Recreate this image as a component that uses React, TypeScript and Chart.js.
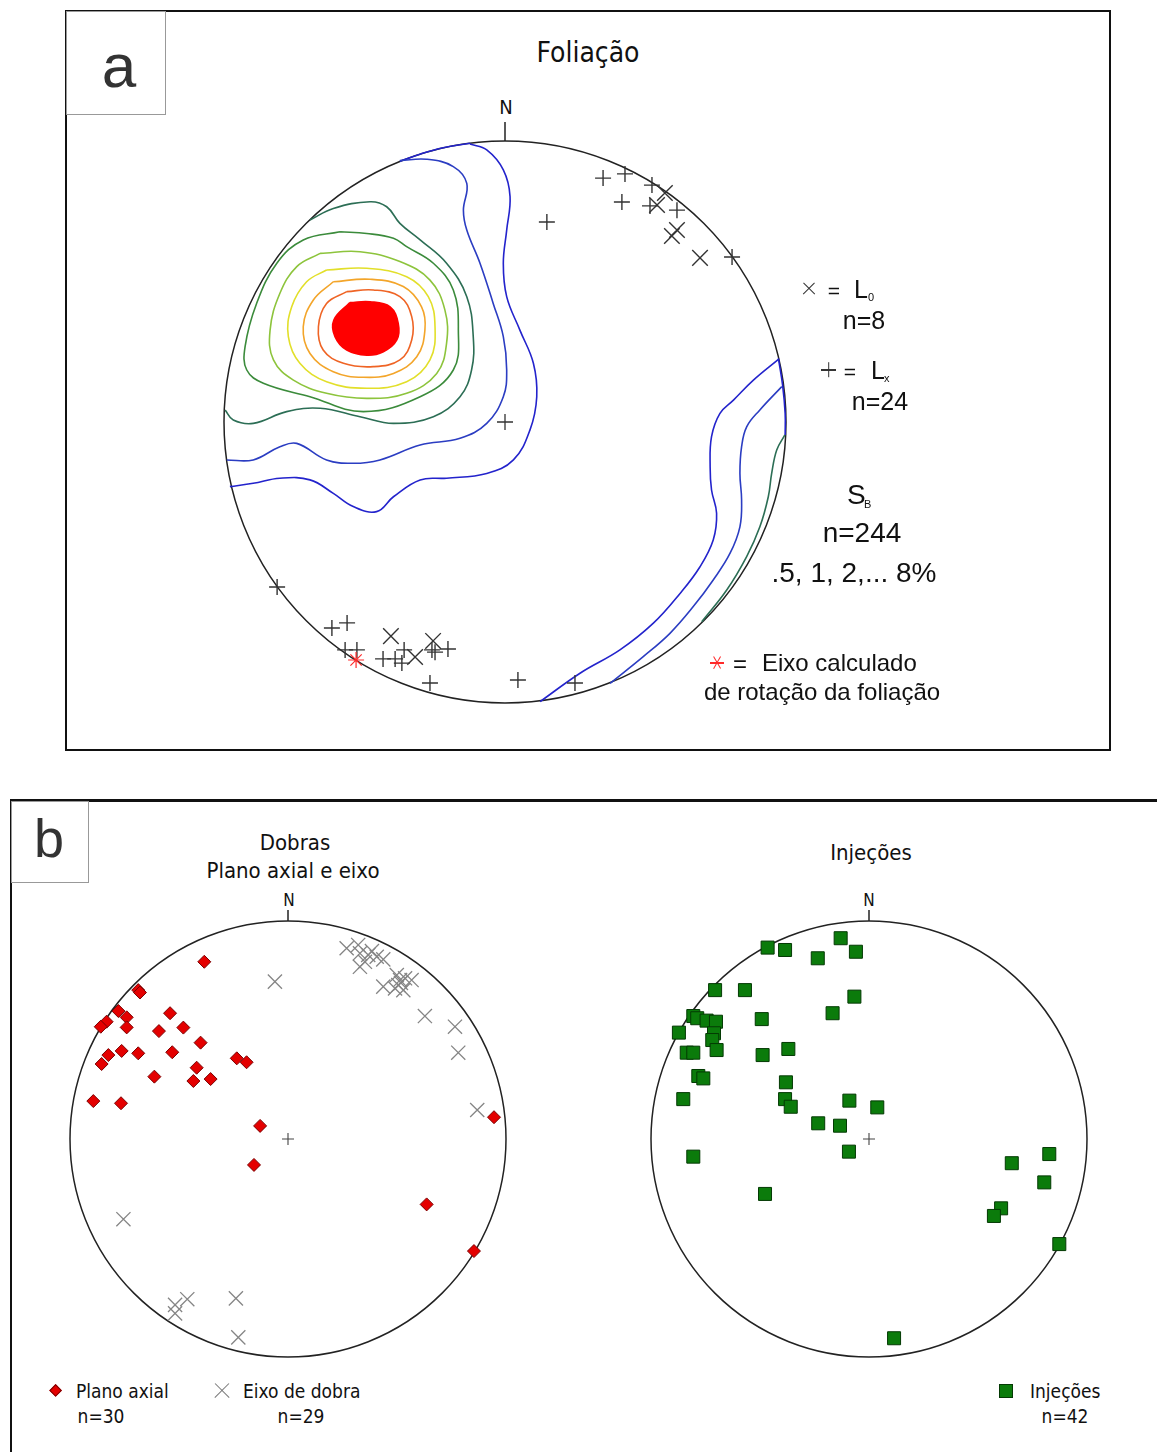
import React, { useEffect, useRef } from 'react';
import { Chart, registerables } from 'chart.js';

Chart.register(...registerables);

type P = [number, number];

// Net coordinates: x = east, y = north, primitive circle radius = 1

// ===================== Panel a – Foliação =====================
const aLx: P[] = [
  [0.349, 0.868], [0.427, 0.883], [0.523, 0.843], [0.416, 0.783], [0.516, 0.769],
  [0.612, 0.754], [0.149, 0.712], [0.808, 0.587], [-0.811, -0.587], [-0.616, -0.733],
  [-0.562, -0.715], [-0.569, -0.811], [-0.527, -0.811], [-0.434, -0.843], [-0.391, -0.843],
  [-0.367, -0.858], [-0.359, -0.811], [-0.26, -0.811], [-0.249, -0.819], [-0.203, -0.808],
  [-0.267, -0.929], [0.046, -0.918], [0.249, -0.929],
];
const aL0: P[] = [
  [0.569, 0.815], [0.541, 0.772], [0.612, 0.683], [0.594, 0.662], [0.694, 0.584],
  [-0.406, -0.762], [-0.32, -0.836], [-0.256, -0.779],
];
const aRotationAxis: P[] = [[-0.53, -0.847]];
const netCentre: P[] = [[0, 0]];

// S_B pole density contours (.5, 1, 2, ... 8 %)
const aC05nw: P[] = [
  [-0.125, 0.989], [-0.065, 0.968], [-0.006, 0.897], [0.018, 0.802], [0.006, 0.683],
  [-0.006, 0.565], [0.006, 0.446], [0.053, 0.327], [0.101, 0.209], [0.113, 0.09],
  [0.089, -0.028], [0.03, -0.135], [-0.065, -0.183], [-0.208, -0.2], [-0.302, -0.206],
  [-0.397, -0.266], [-0.457, -0.319], [-0.54, -0.301], [-0.611, -0.254], [-0.694, -0.206],
  [-0.801, -0.2], [-0.896, -0.218], [-0.979, -0.23],
];
const aC05nwRim: P[] = [[-0.374, 0.928], [-0.3, 0.954], [-0.22, 0.976], [-0.125, 0.992]];
const aC05se: P[] = [
  [0.973, 0.223], [0.884, 0.149], [0.813, 0.078], [0.765, 0.031], [0.735, -0.052],
  [0.73, -0.159], [0.735, -0.242], [0.753, -0.325], [0.741, -0.42], [0.694, -0.515],
  [0.623, -0.61], [0.528, -0.716], [0.409, -0.811], [0.267, -0.894], [0.125, -0.995],
];
const aC05seRim: P[] = [[0.973, 0.226], [0.988, 0.13], [0.997, 0.03], [0.997, -0.046]];
const aC1nw: P[] = [
  [-0.374, 0.93], [-0.279, 0.935], [-0.184, 0.909], [-0.136, 0.849], [-0.148, 0.754],
  [-0.136, 0.683], [-0.089, 0.565], [-0.042, 0.422], [-0.006, 0.304], [0.006, 0.185],
  [-0.006, 0.09], [-0.065, -0.005], [-0.16, -0.058], [-0.302, -0.082], [-0.445, -0.135],
  [-0.54, -0.147], [-0.635, -0.135], [-0.741, -0.076], [-0.801, -0.088], [-0.896, -0.135],
  [-0.99, -0.135],
];
const aC1se: P[] = [
  [0.985, 0.126], [0.907, 0.043], [0.86, -0.017], [0.842, -0.088], [0.836, -0.183],
  [0.842, -0.278], [0.836, -0.373], [0.801, -0.467], [0.741, -0.562], [0.67, -0.657],
  [0.587, -0.752], [0.492, -0.835], [0.374, -0.93],
];
const aC2nw: P[] = [
  [-0.694, 0.719], [-0.611, 0.76], [-0.48, 0.784], [-0.421, 0.766], [-0.374, 0.707],
  [-0.302, 0.648], [-0.208, 0.565], [-0.136, 0.446], [-0.113, 0.304], [-0.119, 0.185],
  [-0.16, 0.09], [-0.255, 0.019], [-0.397, -0.005], [-0.516, 0.019], [-0.658, 0.049],
  [-0.777, 0.037], [-0.896, -0.005], [-0.967, 0.007], [-0.996, 0.043],
];
const aC2se: P[] = [
  [0.996, -0.046], [0.967, -0.1], [0.949, -0.183], [0.937, -0.266], [0.907, -0.373],
  [0.86, -0.479], [0.789, -0.598], [0.7, -0.711],
];
const aC3: P[] = [
  [-0.587, 0.677], [-0.492, 0.671], [-0.397, 0.654], [-0.35, 0.624], [-0.255, 0.565],
  [-0.184, 0.47], [-0.166, 0.327], [-0.184, 0.185], [-0.302, 0.09], [-0.504, 0.037],
  [-0.694, 0.09], [-0.86, 0.138], [-0.919, 0.185], [-0.925, 0.268], [-0.884, 0.422],
  [-0.812, 0.565], [-0.718, 0.648],
];
const aC4: P[] = [
  [-0.658, 0.6], [-0.516, 0.606], [-0.374, 0.571], [-0.267, 0.505], [-0.214, 0.399],
  [-0.208, 0.28], [-0.243, 0.173], [-0.35, 0.102], [-0.492, 0.084], [-0.635, 0.102],
  [-0.753, 0.149], [-0.824, 0.221], [-0.836, 0.327], [-0.801, 0.458], [-0.741, 0.553],
];
const aC5: P[] = [
  [-0.635, 0.541], [-0.492, 0.547], [-0.35, 0.517], [-0.273, 0.446], [-0.249, 0.339],
  [-0.267, 0.221], [-0.35, 0.143], [-0.492, 0.12], [-0.635, 0.143], [-0.73, 0.209],
  [-0.771, 0.304], [-0.759, 0.41], [-0.706, 0.499],
];
const aC6: P[] = [
  [-0.611, 0.499], [-0.48, 0.508], [-0.362, 0.482], [-0.297, 0.41], [-0.285, 0.327],
  [-0.314, 0.232], [-0.397, 0.173], [-0.504, 0.159], [-0.611, 0.179], [-0.694, 0.244],
  [-0.718, 0.339], [-0.682, 0.434],
];
const aC7: P[] = [
  [-0.563, 0.464], [-0.469, 0.47], [-0.374, 0.446], [-0.332, 0.375], [-0.332, 0.292],
  [-0.374, 0.221], [-0.469, 0.197], [-0.575, 0.209], [-0.647, 0.256], [-0.664, 0.339],
  [-0.635, 0.422],
];
const aC8: P[] = [
  [-0.552, 0.425], [-0.48, 0.428], [-0.409, 0.41], [-0.38, 0.351], [-0.385, 0.292],
  [-0.433, 0.25], [-0.492, 0.238], [-0.563, 0.256], [-0.605, 0.304], [-0.609, 0.363],
];

// ===================== Panel b =====================
const bAxialPlane: P[] = [
  [-0.384, 0.813], [-0.687, 0.683], [-0.679, 0.672], [-0.778, 0.587], [-0.74, 0.558],
  [-0.832, 0.538], [-0.859, 0.515], [-0.74, 0.512], [-0.541, 0.577], [-0.592, 0.495],
  [-0.48, 0.511], [-0.401, 0.442], [-0.824, 0.385], [-0.855, 0.344], [-0.763, 0.404],
  [-0.687, 0.393], [-0.531, 0.398], [-0.235, 0.37], [-0.19, 0.352], [-0.419, 0.327],
  [-0.434, 0.266], [-0.355, 0.275], [-0.613, 0.286], [-0.893, 0.174], [-0.766, 0.164],
  [-0.128, 0.06], [0.945, 0.1], [0.636, -0.3], [0.853, -0.514], [-0.156, -0.119],
];
const bFoldAxis: P[] = [
  [0.269, 0.875], [0.322, 0.89], [0.33, 0.852], [0.353, 0.813], [0.33, 0.79],
  [0.368, 0.844], [0.407, 0.836], [0.437, 0.824], [0.437, 0.699], [0.499, 0.752],
  [0.514, 0.729], [0.506, 0.706], [0.537, 0.737], [0.529, 0.683], [0.567, 0.729],
  [0.491, 0.691], [0.628, 0.564], [0.766, 0.515], [0.781, 0.396], [0.868, 0.133],
  [-0.06, 0.722], [-0.755, -0.368], [-0.518, -0.761], [-0.518, -0.8], [-0.462, -0.735],
  [-0.239, -0.731], [-0.228, -0.91], [0.385, 0.862], [0.518, 0.716],
];
const bInjections: P[] = [
  [-0.465, 0.878], [-0.385, 0.867], [-0.13, 0.921], [-0.06, 0.859], [-0.235, 0.829],
  [-0.706, 0.683], [-0.569, 0.683], [-0.067, 0.653], [-0.167, 0.577], [-0.806, 0.564],
  [-0.788, 0.554], [-0.745, 0.543], [-0.702, 0.538], [-0.872, 0.488], [-0.711, 0.485],
  [-0.719, 0.454], [-0.492, 0.55], [-0.836, 0.396], [-0.806, 0.396], [-0.699, 0.408],
  [-0.488, 0.385], [-0.37, 0.413], [-0.783, 0.289], [-0.76, 0.278], [-0.381, 0.26],
  [-0.852, 0.183], [-0.385, 0.183], [-0.359, 0.148], [-0.09, 0.176], [0.038, 0.145],
  [-0.233, 0.072], [-0.133, 0.061], [-0.092, -0.058], [-0.806, -0.081], [-0.477, -0.252],
  [0.655, -0.111], [0.827, -0.069], [0.804, -0.199], [0.606, -0.318], [0.573, -0.353],
  [0.873, -0.482], [0.115, -0.914],
];

// ===================== styles =====================
const contourColour: Record<string, string> = {
  '0.5': '#2323cc', '1': '#2b3dc2', '2': '#2c6e55', '3': '#3b8b3b', '4': '#8dc43c',
  '5': '#e2df2a', '6': '#f3a52a', '7': '#ef6425', '8': '#ff0000',
};
const SANS = "'Liberation Sans', Arial, sans-serif";
const COND = "'DejaVu Sans Condensed', 'DejaVu Sans', sans-serif";

const toXY = (a: P[]) => a.map(([x, y]) => ({ x, y }));

function marker(data: P[], style: string, radius: number, stroke: string, fillC: string, lw: number) {
  return {
    data: toXY(data), showLine: false, pointStyle: style, pointRadius: radius, pointHoverRadius: radius,
    pointBorderColor: stroke, pointBackgroundColor: fillC, pointBorderWidth: lw,
  };
}
function contour(data: P[], level: string, closed: boolean, filled = false) {
  const d = closed ? [...data, data[0]] : data;
  return {
    data: toXY(d), showLine: true, pointRadius: 0, pointHoverRadius: 0,
    borderColor: contourColour[level], borderWidth: 1.6, tension: 0.4,
    fill: filled ? 'shape' : false, backgroundColor: contourColour[level],
  };
}

const panelA = () => [
  marker(netCentre, 'cross', 8, '#333', '#333', 1.3),
  marker(aRotationAxis, 'star', 8, '#ff2a2a', '#ff2a2a', 1.2),
  marker(aL0, 'crossRot', 11, '#333', '#333', 1.4),
  marker(aLx, 'cross', 8, '#333', '#333', 1.4),
  contour(aC8, '8', true, true),
  contour(aC7, '7', true),
  contour(aC6, '6', true),
  contour(aC5, '5', true),
  contour(aC4, '4', true),
  contour(aC3, '3', true),
  contour(aC2nw, '2', false),
  contour(aC2se, '2', false),
  contour(aC1nw, '1', false),
  contour(aC1se, '1', false),
  contour(aC05nw, '0.5', false),
  contour(aC05nwRim, '0.5', false),
  contour(aC05se, '0.5', false),
  contour(aC05seRim, '0.5', false),
];
const panelBLeft = () => [
  marker(bAxialPlane, 'rectRot', 6.5, '#7a0000', '#e40000', 1),
  marker(bFoldAxis, 'crossRot', 10, '#858585', '#858585', 1.3),
  marker(netCentre, 'cross', 6, '#444', '#444', 1.1),
];
const panelBRight = () => [
  marker(bInjections, 'rect', 9.2, '#043a04', '#0b7b0b', 1),
  marker(netCentre, 'cross', 6, '#444', '#444', 1.1),
];

const primitivePlugin = (tick: number) => ({
  id: 'primitive',
  beforeDatasetsDraw(chart: any) {
    const { ctx, scales } = chart;
    const px = scales.x.getPixelForValue(0);
    const py = scales.y.getPixelForValue(0);
    const r = scales.x.getPixelForValue(1) - px;
    ctx.save();
    ctx.strokeStyle = '#222';
    ctx.lineWidth = 1.5;
    ctx.beginPath();
    ctx.arc(px, py, r, 0, Math.PI * 2);
    ctx.stroke();
    ctx.beginPath();
    ctx.moveTo(px, py - r);
    ctx.lineTo(px, py - r - tick);
    ctx.stroke();
    ctx.restore();
  },
});

function Net({ cx, cy, R, half, tick, make }: { cx: number; cy: number; R: number; half: number; tick: number; make: () => any[] }) {
  const ref = useRef<HTMLCanvasElement | null>(null);
  useEffect(() => {
    if (!ref.current) return;
    const span = half / R;
    const chart = new Chart(ref.current, {
      type: 'scatter',
      data: { datasets: make() as any },
      options: {
        animation: false,
        responsive: false,
        devicePixelRatio: 1,
        events: [],
        layout: { padding: 0, autoPadding: false },
        plugins: { legend: { display: false }, tooltip: { enabled: false }, title: { display: false } },
        scales: {
          x: { type: 'linear', min: -span, max: span, display: false },
          y: { type: 'linear', min: -span, max: span, display: false },
        },
      } as any,
      plugins: [primitivePlugin(tick)],
    });
    return () => chart.destroy();
  }, []);
  return (
    <canvas ref={ref} width={half * 2} height={half * 2}
      style={{ position: 'absolute', left: cx - half, top: cy - half, width: half * 2, height: half * 2 }} />
  );
}

function T({ x, y, size, family = SANS, anchor = 'middle', color = '#111', children }: any) {
  const tx = anchor === 'middle' ? '-50%' : anchor === 'end' ? '-100%' : '0';
  return (
    <div style={{
      position: 'absolute', left: x, top: y, transform: `translate(${tx}, -50%)`, fontSize: size,
      fontFamily: family, lineHeight: 1, whiteSpace: 'nowrap', color,
    }}>{children}</div>
  );
}

function Mark({ x, y, len, rots, color, w = 1.4 }: { x: number; y: number; len: number; rots: number[]; color: string; w?: number }) {
  return (
    <>
      {rots.map((r, i) => (
        <div key={i} style={{
          position: 'absolute', left: x - len / 2, top: y - w / 2, width: len, height: w,
          background: color, transform: `rotate(${r}deg)`,
        }} />
      ))}
    </>
  );
}

export default function App() {
  return (
    <div style={{ position: 'absolute', left: 0, top: 0, width: 1157, height: 1452, overflow: 'hidden', background: '#fff' }}>
      {/* Panel a frame */}
      <div style={{ position: 'absolute', left: 65, top: 10, width: 1046, height: 741, border: '2px solid #111', boxSizing: 'border-box' }} />
      <div style={{ position: 'absolute', left: 66, top: 11, width: 100, height: 104, border: '1px solid #999', boxSizing: 'border-box' }} />
      <T x={119} y={66} size={62} color="#333">a</T>
      <T x={588} y={53} size={28} family={COND}>Foliação</T>
      <T x={506} y={107} size={20} family={COND}>N</T>

      <Net cx={505} cy={422} R={281} half={310} tick={19} make={panelA} />

      {/* Panel a legend */}
      <Mark x={809} y={289} len={16} rots={[45, -45]} color="#333" />
      <T x={834} y={290} size={21}>=</T>
      <T x={854} y={289} size={25} anchor="start">L</T>
      <T x={868} y={297} size={11} anchor="start">0</T>
      <T x={864} y={320} size={25}>n=8</T>

      <Mark x={828} y={370} len={15} rots={[0, 90]} color="#333" />
      <T x={850} y={371} size={21}>=</T>
      <T x={871} y={370} size={25} anchor="start">L</T>
      <T x={884} y={378} size={11} anchor="start">x</T>
      <T x={880} y={401} size={25}>n=24</T>

      <T x={847} y={495} size={28} anchor="start">S</T>
      <T x={864} y={504} size={11} anchor="start">B</T>
      <T x={862} y={533} size={28}>n=244</T>
      <T x={854} y={573} size={28}>.5, 1, 2,... 8%</T>

      <Mark x={717} y={663} len={14} rots={[0, 60, 120]} color="#ff2a2a" w={1.2} />
      <T x={740} y={664} size={24}>=</T>
      <T x={762} y={663} size={24} anchor="start">Eixo calculado</T>
      <T x={822} y={692} size={24}>de rotação da foliação</T>

      {/* Panel b frame */}
      <div style={{ position: 'absolute', left: 10, top: 799, width: 1300, height: 800, borderTop: '3px solid #111', borderLeft: '2px solid #111', boxSizing: 'border-box' }} />
      <div style={{ position: 'absolute', left: 11, top: 801, width: 78, height: 82, border: '1px solid #999', boxSizing: 'border-box' }} />
      <T x={49} y={838} size={54} color="#333">b</T>

      <T x={295} y={843} size={22} family={COND}>Dobras</T>
      <T x={293} y={871} size={22} family={COND}>Plano axial e eixo</T>
      <T x={871} y={853} size={22} family={COND}>Injeções</T>
      <T x={289} y={900} size={17} family={COND}>N</T>
      <T x={869} y={900} size={17} family={COND}>N</T>

      <Net cx={288} cy={1139} R={218} half={234} tick={11} make={panelBLeft} />
      <Net cx={869} cy={1139} R={218} half={234} tick={11} make={panelBRight} />

      {/* Panel b legends */}
      <div style={{ position: 'absolute', left: 56 - 4.6, top: 1391 - 4.6, width: 9.2, height: 9.2, background: '#e40000', border: '1px solid #7a0000', boxSizing: 'border-box', transform: 'rotate(45deg)' }} />
      <T x={76} y={1391} size={19} family={COND} anchor="start">Plano axial</T>
      <T x={101} y={1416} size={19} family={COND}>n=30</T>

      <Mark x={222} y={1391} len={20} rots={[45, -45]} color="#777" w={1.4} />
      <T x={243} y={1391} size={19} family={COND} anchor="start">Eixo de dobra</T>
      <T x={301} y={1416} size={19} family={COND}>n=29</T>

      <div style={{ position: 'absolute', left: 999, top: 1384, width: 14, height: 14, background: '#0b7b0b', border: '1px solid #043a04', boxSizing: 'border-box' }} />
      <T x={1030} y={1391} size={19} family={COND} anchor="start">Injeções</T>
      <T x={1065} y={1416} size={19} family={COND}>n=42</T>
    </div>
  );
}
